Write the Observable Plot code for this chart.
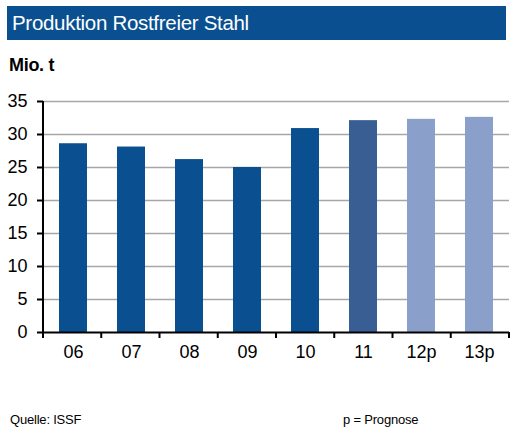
<!DOCTYPE html>
<html>
<head>
<meta charset="utf-8">
<script src="https://cdn.jsdelivr.net/npm/d3@7"></script>
<script src="https://cdn.jsdelivr.net/npm/@observablehq/plot@0.6"></script>
<style>
  body { margin: 0; background: #fff; font-family: "Liberation Sans", Arial, sans-serif; }
  #wrap { position: relative; width: 520px; height: 436px; overflow: hidden; }
  #title { position: absolute; left: 7px; top: 6px; width: 499px; height: 34px; background: #0a5090;
           color: #fff; font-size: 20.5px; line-height: 33px; padding-left: 5px; box-sizing: border-box; letter-spacing: -0.3px; }
  #unit { position: absolute; left: 9px; top: 55px; font-size: 18px; font-weight: bold; letter-spacing: -0.3px; }
  #chart { position: absolute; left: 0; top: 80px; }
  .foot { position: absolute; top: 412px; font-size: 13px; letter-spacing: -0.2px; }
</style>
</head>
<body>
<div id="wrap">
  <div id="title">Produktion Rostfreier Stahl</div>
  <div id="unit">Mio. t</div>
  <div id="chart"></div>
  <div class="foot" style="left:10px">Quelle: ISSF</div>
  <div class="foot" style="left:343px">p = Prognose</div>
</div>
<script>
// categories and values (Mio. t)
const years = ["06", "07", "08", "09", "10", "11", "12p", "13p"]
const production = [28.6, 28.1, 26.2, 25.0, 30.9, 32.1, 32.3, 32.6]
const kinds = ["ist", "ist", "ist", "ist", "ist", "schaetzung", "prognose", "prognose"]
const yTicks = [0, 5, 10, 15, 20, 25, 30, 35]
const gridTicks = [5, 10, 15, 20, 25, 30, 35]

const data = years.map((y, i) => ({year: y, value: production[i], kind: kinds[i]}))

const plot = Plot.plot({
  width: 520,
  height: 300,
  marginTop: 21,
  marginBottom: 48,
  marginLeft: 43,
  marginRight: 11,
  style: {fontFamily: "Liberation Sans, Arial, sans-serif", fontSize: "18px", color: "#000"},
  x: {domain: years, paddingInner: 0.52, paddingOuter: 0.26, label: null},
  y: {domain: [0, 35], label: null},
  color: {domain: ["ist", "schaetzung", "prognose"], range: ["#0a4f8f", "#385e94", "#8aa0cb"]},
  marks: [
    Plot.ruleY(gridTicks, {stroke: "#a6a6a6", strokeWidth: 1.5}),
    Plot.barY(data, {x: "year", y: "value", fill: "kind"}),
    Plot.axisY(yTicks, {tickSize: 6, tickPadding: 10, stroke: "#000", strokeWidth: 2, fontSize: 18, label: null}),
    Plot.axisX({tickSize: 0, tickPadding: 13, fontSize: 18, label: null}),
    Plot.ruleY([0], {stroke: "#000", strokeWidth: 2})
  ]
})

// y axis line and tick marks between categories
const x = plot.scale("x")
const yS = plot.scale("y")
const svg = d3.select(plot)
const [r0, r1] = x.range
svg.append("line").attr("x1", r0).attr("x2", r0).attr("y1", yS.apply(0) + 1).attr("y2", yS.apply(35))
  .attr("stroke", "#000").attr("stroke-width", 2)
const step = (r1 - r0) / years.length
d3.range(years.length + 1).forEach(i => {
  const px = r0 + i * step
  svg.append("line").attr("x1", px).attr("x2", px).attr("y1", yS.apply(0)).attr("y2", yS.apply(0) + 6)
    .attr("stroke", "#000").attr("stroke-width", 2)
})

document.querySelector("#chart").append(plot)
</script>
</body>
</html>
